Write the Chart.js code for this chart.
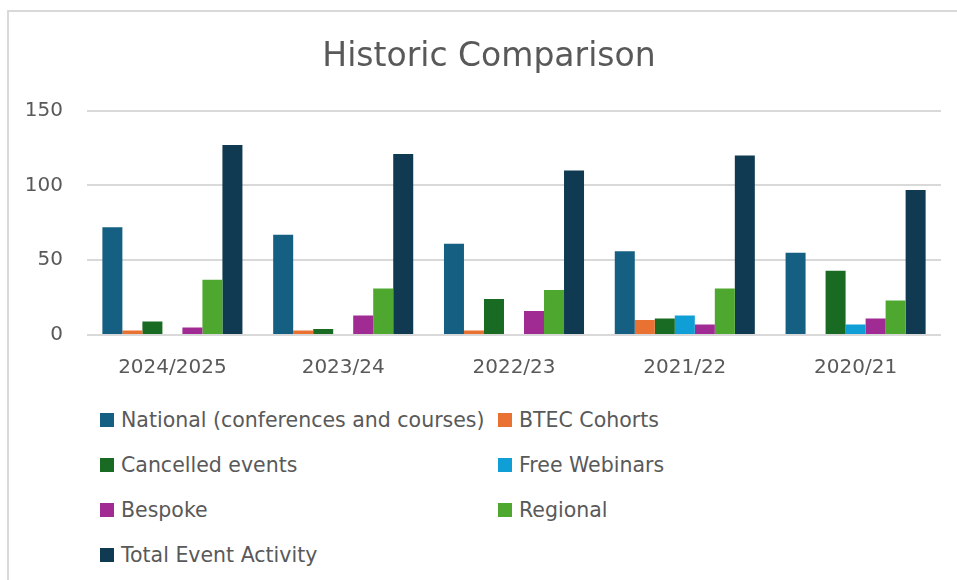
<!DOCTYPE html>
<html>
<head>
    <title>Historic Comparison</title>
    <script src="https://cdn.jsdelivr.net/npm/chart.js"></script>
    <style>
        body {
            margin: 0;
            background: #ffffff;
            font-family: "DejaVu Sans", sans-serif;
            overflow: hidden;
        }
        .frame {
            position: absolute;
            left: 7px;
            top: 10px;
            width: 1000px;
            height: 620px;
            border: 2px solid #d9d9d9;
        }
        #chartBox {
            position: absolute;
            left: 0;
            top: 0;
            width: 957px;
            height: 393px;
        }
        .legend {
            position: absolute;
            left: 100px;
            top: 397px;
            display: grid;
            grid-template-columns: 398px auto;
            grid-auto-rows: 45px;
            color: #595959;
            font-size: 20.5px;
        }
        .legend div {
            display: flex;
            align-items: center;
            white-space: nowrap;
        }
        .legend span.box {
            display: inline-block;
            width: 14px;
            height: 14px;
            margin-right: 7px;
        }
    </style>
</head>
<body>
    <div class="frame"></div>
    <div id="chartBox"><canvas id="chart" width="957" height="393"></canvas></div>
    <div class="legend" id="legend"></div>
    <script>
        const years = ['2024/2025', '2023/24', '2022/23', '2021/22', '2020/21'];
        const national = [72, 67, 61, 56, 55];
        const btec = [3, 3, 3, 10, 0];
        const cancelled = [9, 4, 24, 11, 43];
        const webinars = [0, 0, 0, 13, 7];
        const bespoke = [5, 13, 16, 7, 11];
        const regional = [37, 31, 30, 31, 23];
        const total = [127, 121, 110, 120, 97];
        const yTicks = [0, 50, 100, 150];

        const textColor = '#595959';
        const fontFamily = '"DejaVu Sans", sans-serif';
        const yFontSize = 20;

        const series = [
            { label: 'National (conferences and courses)', data: national, color: '#156082' },
            { label: 'BTEC Cohorts', data: btec, color: '#E97132' },
            { label: 'Cancelled events', data: cancelled, color: '#196B24' },
            { label: 'Free Webinars', data: webinars, color: '#0F9ED5' },
            { label: 'Bespoke', data: bespoke, color: '#A02B93' },
            { label: 'Regional', data: regional, color: '#4EA72E' },
            { label: 'Total Event Activity', data: total, color: '#0F3A51' }
        ];

        // width of the widest y label, needed for the mirrored tick placement
        const measure = document.createElement('canvas').getContext('2d');
        measure.font = `${yFontSize}px ${fontFamily}`;
        const widestY = Math.max(...yTicks.map(v => measure.measureText(String(v)).width));

        const ctx = document.getElementById('chart').getContext('2d');
        const chart = new Chart(ctx, {
            type: 'bar',
            data: {
                labels: years,
                datasets: series.map(s => ({
                    label: s.label,
                    data: s.data,
                    backgroundColor: s.color,
                    borderWidth: 0,
                    barPercentage: 1,
                    categoryPercentage: 0.82
                }))
            },
            options: {
                responsive: false,
                animation: false,
                layout: {
                    padding: { left: 37, right: 16, top: 38, bottom: 0 }
                },
                plugins: {
                    legend: { display: false },
                    tooltip: { enabled: false },
                    title: {
                        display: true,
                        text: 'Historic Comparison',
                        color: textColor,
                        font: { family: fontFamily, size: 33, weight: 'normal' },
                        padding: { top: 0, bottom: 33 }
                    }
                },
                scales: {
                    x: {
                        grid: { display: false },
                        border: { display: false },
                        ticks: {
                            color: textColor,
                            padding: 13,
                            font: { family: fontFamily, size: 20 }
                        }
                    },
                    y: {
                        min: yTicks[0],
                        max: yTicks[yTicks.length - 1],
                        afterBuildTicks: axis => {
                            axis.ticks = yTicks.map(v => ({ value: v }));
                        },
                        // fixed axis width so the title centres like the original
                        afterFit: axis => { axis.width = 50; },
                        grid: { color: '#d9d9d9', lineWidth: 2, drawTicks: false },
                        border: { display: false },
                        ticks: {
                            color: textColor,
                            mirror: true,
                            crossAlign: 'far',
                            padding: -(24 + widestY),
                            font: { family: fontFamily, size: yFontSize }
                        }
                    }
                }
            }
        });

        // HTML legend in two columns, built from the chart's own legend items
        const legendEl = document.getElementById('legend');
        chart.options.plugins.legend.labels.generateLabels(chart).forEach(item => {
            const row = document.createElement('div');
            row.innerHTML = `<span class="box" style="background:${item.fillStyle}"></span>${item.text}`;
            legendEl.appendChild(row);
        });
    </script>
</body>
</html>
